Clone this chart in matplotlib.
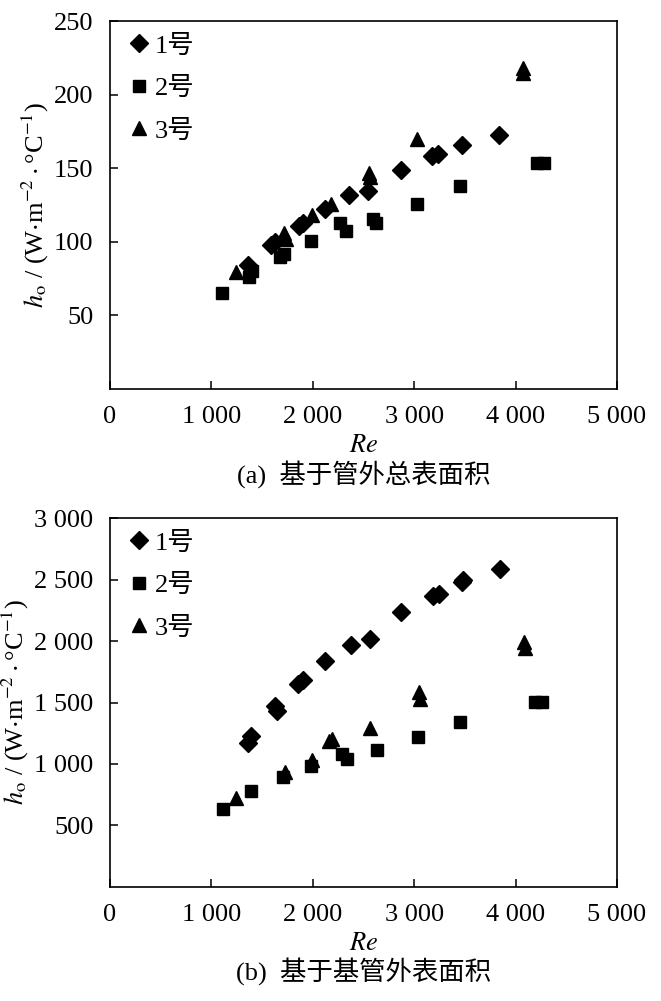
import matplotlib
matplotlib.use("Agg")
import matplotlib.pyplot as plt
from matplotlib.ticker import FuncFormatter

plt.rcParams["font.family"] = ["Liberation Serif", "Noto Sans CJK SC"]
plt.rcParams["mathtext.fontset"] = "stix"

# ---------------------------------------------------------------- data --
# (a) based on total outer surface area
re_a1 = [1363, 1592, 1627, 1866, 1908, 2119, 2354, 2540, 2867, 3173, 3236, 3471, 3834]
h_a1 = [84, 98, 100, 111, 113, 122, 131.5, 134.5, 149, 158, 159.6, 166, 172.7]
re_a2 = [1100, 1374, 1398, 1680, 1714, 1985, 2270, 2323, 2593, 2628, 3025, 3454, 4209, 4280]
h_a2 = [65.2, 75.8, 80.5, 90, 92, 100.7, 112.9, 107.2, 115.8, 113, 126, 137.6, 153.8, 153.8]
re_a3 = [1240, 1715, 1732, 1989, 2182, 2558, 2565, 3032, 4069, 4075]
h_a3 = [79.8, 105.7, 102, 118, 126, 146.6, 144, 169.7, 218, 215]

# (b) based on base-tube outer surface area
re_b1 = [1364, 1389, 1628, 1646, 1857, 1902, 2120, 2377, 2560, 2869, 3186, 3245, 3474, 3485, 3843]
h_b1 = [1167, 1228, 1469, 1434, 1652, 1683, 1839, 1965, 2018, 2238, 2367, 2380, 2479, 2492, 2589]
re_b2 = [1111, 1389, 1705, 1980, 2286, 2342, 2630, 3034, 3449, 4195, 4265]
h_b2 = [631, 781, 893, 987, 1081, 1041, 1116, 1220, 1341, 1502, 1502]
re_b3 = [1241, 1726, 1990, 2155, 2190, 2567, 3052, 3059, 4082, 4089]
h_b3 = [720, 934, 1036, 1183, 1207, 1295, 1582, 1528, 1991, 1945]

labels = ["1号", "2号", "3号"]
markers = ["D", "s", "^"]
msizes = [9, 8.5, 9.5]
captions = ["(a)  基于管外总表面积", "(b)  基于基管外表面积"]

FS = 19


def _sep(v, _pos):
    return f"{int(v):,}".replace(",", " ")


def _panel(ax, series, ymax, ystep):
    for (x, y), m, ms, lab in zip(series, markers, msizes, labels):
        ax.plot(x, y, ls="none", marker=m, ms=ms, color="black", label=lab)
    ax.set_xlim(0, 5000)
    ax.set_ylim(0, ymax)
    ax.set_xticks(range(0, 5001, 1000))
    ax.set_yticks(range(ystep, ymax + 1, ystep))
    ax.xaxis.set_major_formatter(FuncFormatter(_sep))
    ax.yaxis.set_major_formatter(FuncFormatter(_sep))
    ax.tick_params(direction="in", length=6, width=1.1, labelsize=FS,
                   top=False, right=False)
    ax.tick_params(axis="x", pad=12)
    ax.tick_params(axis="y", pad=12)
    for s in ax.spines.values():
        s.set_linewidth(1.2)
    ax.set_xlabel("$Re$", fontsize=FS, labelpad=5)
    ax.set_ylabel(r"$h_\mathrm{o}$ / (W$\cdot$m$^{-2}\cdot$°C$^{-1}$)", fontsize=FS, labelpad=2)
    ax.legend(loc="upper left", frameon=False, fontsize=FS, handletextpad=0.0,
              labelspacing=0.72, borderaxespad=0.1, handlelength=1.2,
              bbox_to_anchor=(0.0, 1.0))


fig = plt.figure(figsize=(6.61, 10.01), dpi=100)
ax1 = fig.add_axes([0.1664, 0.6114, 0.767, 0.3676])
ax2 = fig.add_axes([0.1664, 0.1139, 0.767, 0.3686])

_panel(ax1, [(re_a1, h_a1), (re_a2, h_a2), (re_a3, h_a3)], 250, 50)
_panel(ax2, [(re_b1, h_b1), (re_b2, h_b2), (re_b3, h_b3)], 3000, 500)

fig.text(0.55, 1 - 474 / 1001, captions[0], ha="center", va="center", fontsize=FS)
fig.text(0.55, 1 - 971 / 1001, captions[1], ha="center", va="center", fontsize=FS)

fig.savefig("out.png", dpi=100)
